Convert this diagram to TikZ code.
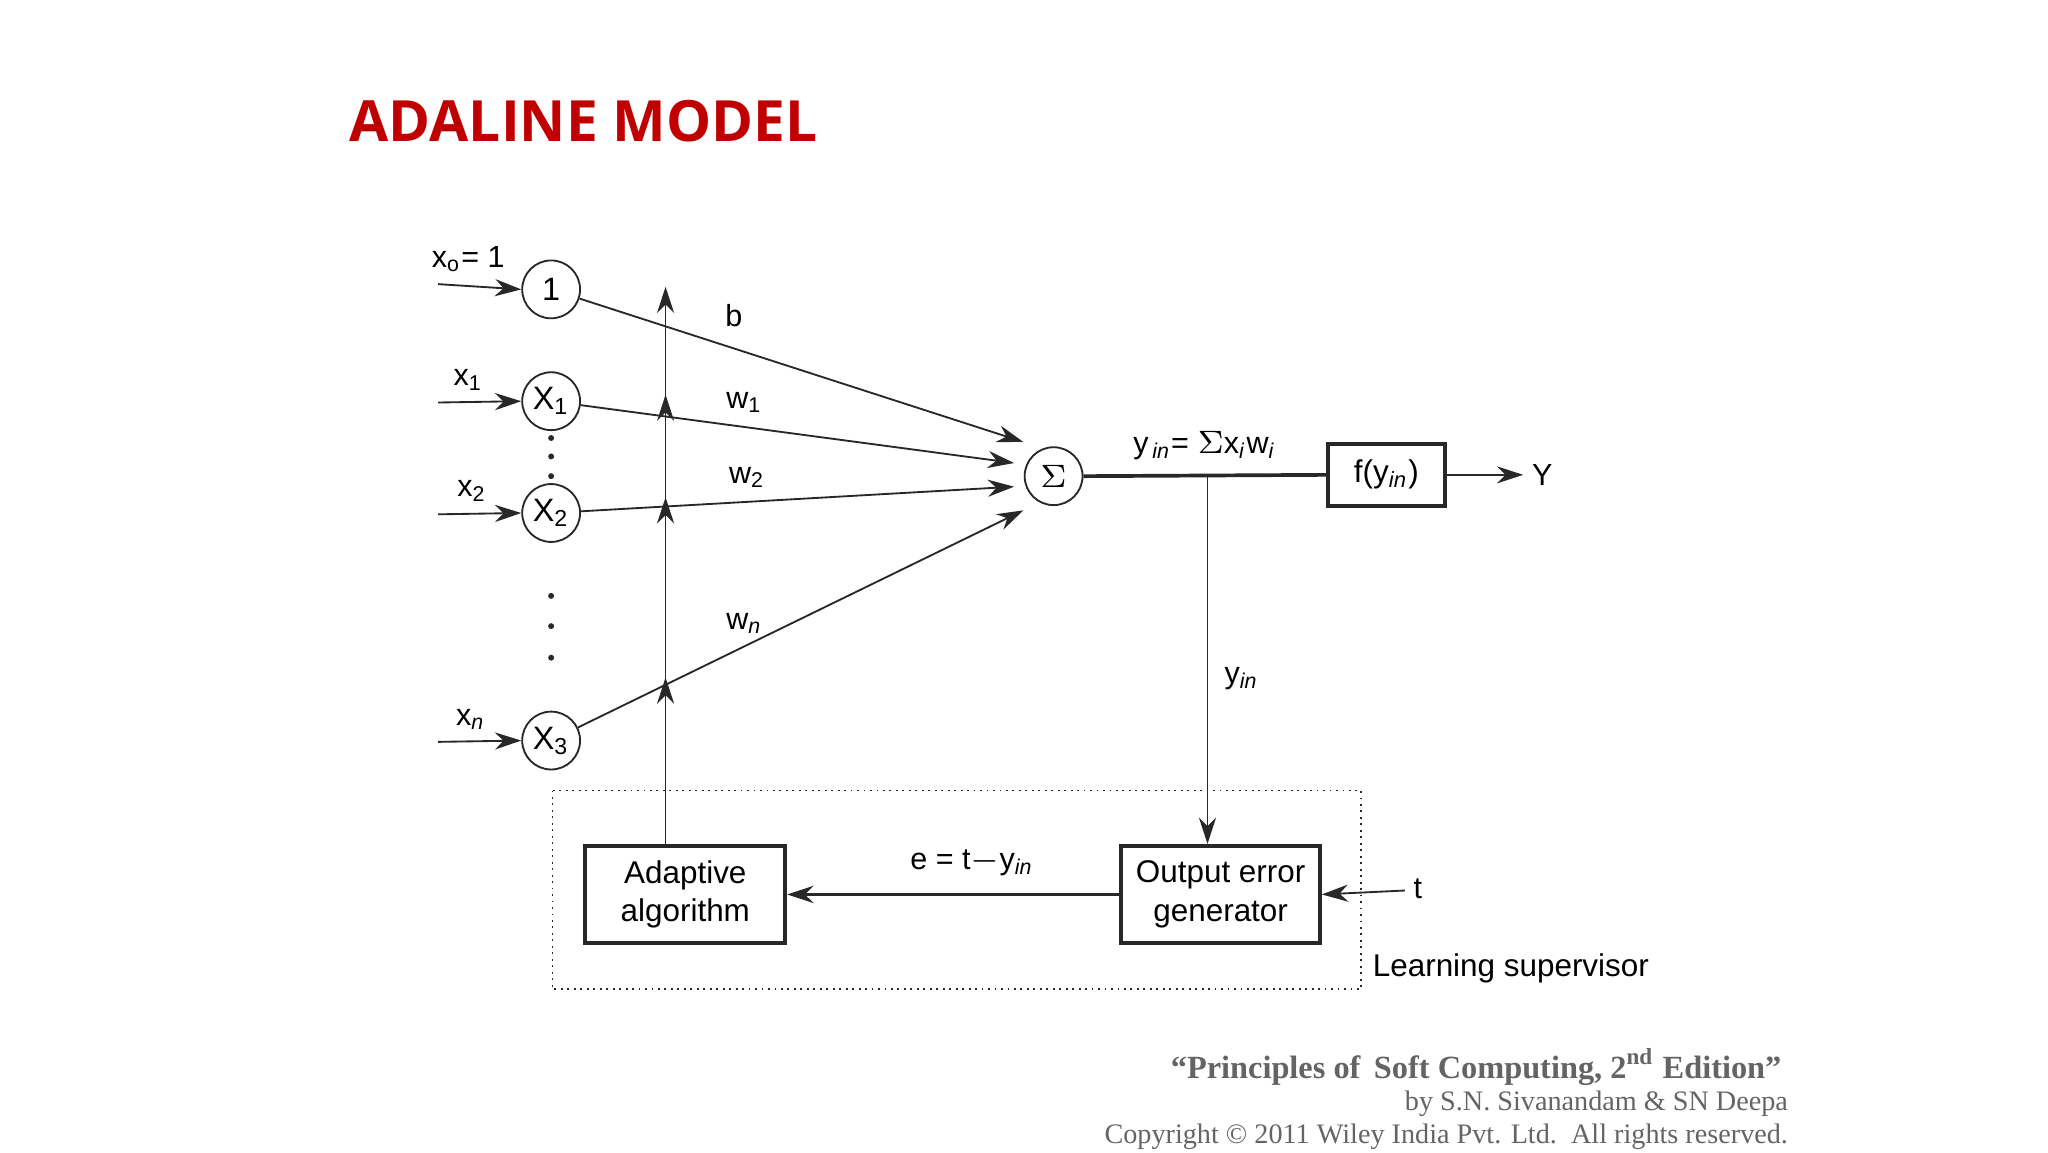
\documentclass[tikz,border=0pt]{standalone}
\usepackage{fontspec}
\setmainfont{Liberation Sans}
\newfontfamily\titlefont{Open Sans}
\newfontfamily\citefont{Liberation Serif}
\usetikzlibrary{arrows.meta}
\definecolor{titlered}{RGB}{192,0,0}
\definecolor{citegray}{RGB}{100,100,100}
\definecolor{ln}{RGB}{40,40,40}
\newcommand{\sbs}[1]{\textsubscript{#1}}
\tikzset{
 neuron/.style={draw=ln,circle,minimum size=4.4mm,inner sep=0pt,font=\fontsize{7}{8}\selectfont},
 boxn/.style={draw=ln,thick,inner sep=0pt,align=center,font=\fontsize{6.8}{8.4}\selectfont},
 conn/.style={draw=ln,-{Stealth[length=2mm,width=1.3mm]}},
 lbl/.style={font=\fontsize{6.6}{8}\selectfont,inner sep=0pt},
 cite/.style={font=\citefont\fontsize{6.1}{7}\selectfont,text=citegray,anchor=east,inner sep=0pt},
 dotn/.style={circle,fill=ln,inner sep=0pt,minimum size=0.45mm}
}
\begin{document}
\begin{tikzpicture}[x=0.1mm,y=-0.1mm]
\useasboundingbox (0,0) rectangle (1557,876);
\node[anchor=west,inner sep=0pt,text=titlered,font=\titlefont\bfseries\fontsize{12.3}{15}\selectfont] (title) at (265,92) {ADALINE MODEL};
% neurons
\node[neuron] (n0) at (419,220) {1};
\node[neuron] (n1) at (419,305) {X\sbs{1}};
\node[neuron] (n2) at (419,390) {X\sbs{2}};
\node[neuron] (n3) at (419,563) {X\sbs{3}};
\node[neuron] (sum) at (801,362) {$\Sigma$};
% dots
\foreach \y [count=\i] in {333,347,362,453,476,500} \node[dotn] (d\i) at (419,\y) {};
% input arrows
\coordinate (i0) at (333,216); \coordinate (i1) at (333,306);
\coordinate (i2) at (333,391); \coordinate (i3) at (333,564);
\draw[conn] (i0) -- (n0.west); \draw[conn] (i1) -- (n1.west);
\draw[conn] (i2) -- (n2.west); \draw[conn] (i3) -- (n3.west);
\node[lbl] (lx0) at (356,197) {x\sbs{o}= 1};
\node[lbl] (lx1) at (356,289) {x\sbs{1}};
\node[lbl] (lx2) at (359,373) {x\sbs{2}};
\node[lbl] (lx3) at (358,547) {x\sbs{\textit{n}}};
% weights
\coordinate (s0) at (778,336); \coordinate (s1) at (771,352);
\coordinate (s2) at (771,370); \coordinate (s3) at (778,388);
\draw[conn] (n0) -- (s0); \draw[conn] (n1) -- (s1);
\draw[conn] (n2) -- (s2); \draw[conn] (n3) -- (s3);
\node[lbl] (lb) at (558,240) {b};
\node[lbl] (lw1) at (566,306) {w\sbs{1}};
\node[lbl] (lw2) at (568,363) {w\sbs{2}};
\node[lbl] (lwn) at (566,474) {w\sbs{\textit{n}}};
% boxes
\node[boxn,minimum width=15.2mm,minimum height=7.4mm] (adapt) at (521,680) {Adaptive\\algorithm};
\node[boxn,minimum width=15.1mm,minimum height=7.4mm] (oeg) at (928,680) {Output error\\generator};
\node[boxn,minimum width=8.9mm,minimum height=4.7mm] (f) at (1054,361) {f(y\sbs{\textit{in}})};
% adaptive feedback line
\coordinate (a0) at (506,643); \coordinate (atop) at (506,218);
\draw[conn] (a0) -- (atop);
\foreach \y in {300,378,515} \draw[conn] (506,\y+20) -- (506,\y);
% output
\coordinate (tap) at (918,361);
\draw[draw=ln,thick] (sum.east) -- (f.west);
\node[lbl] (lyin) at (916,339) {y\sbs{\,\textit{in}}= $\Sigma$x\sbs{\textit{i}}w\sbs{\textit{i}}};
\coordinate (Yend) at (1158,361);
\draw[conn] (f.east) -- (Yend);
\node[lbl,anchor=west] (Y) at (1164,361) {Y};
\draw[conn] (tap) -- (oeg.north -| tap);
\node[lbl] (lyin2) at (944,516) {y\sbs{\textit{in}}};
\draw[conn,thick] (oeg.west) -- (adapt.east);
\node[lbl] (le) at (739,656) {e = t$-$y\sbs{\textit{in}}};
\coordinate (tin) at (1068,677);
\draw[conn] (tin) -- (oeg.east);
\node[lbl,anchor=west] (lt) at (1074,676) {t};
% supervisor
\draw[draw=ln,densely dotted] (420,601) rectangle (1035,752);
\node[lbl,anchor=west,font=\fontsize{6.8}{8}\selectfont] (ls) at (1043,736) {Learning supervisor};
% citation
\node[cite,font=\citefont\bfseries\fontsize{7}{9}\selectfont] (c1) at (1355,811) {“Principles of\, Soft Computing, 2\textsuperscript{nd} Edition”};
\node[cite] (c2) at (1360,839) {by S.N. Sivanandam \& SN Deepa};
\node[cite] (c3) at (1360,864) {Copyright \textcopyright\ 2011 Wiley India Pvt. Ltd.\ \ All rights reserved.};
\end{tikzpicture}
\end{document}
